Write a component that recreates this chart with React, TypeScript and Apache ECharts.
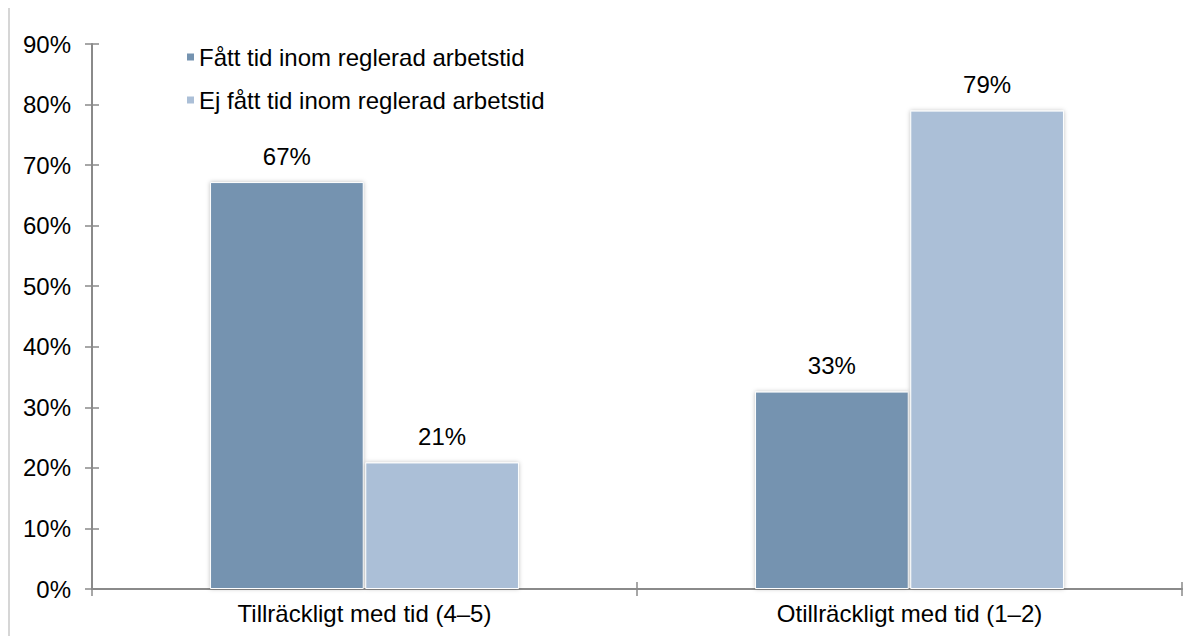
import React, { useEffect, useRef } from "react";
import * as echarts from "echarts";

const categories = ["Tillräckligt med tid (4–5)", "Otillräckligt med tid (1–2)"];
const seriesNames = ["Fått tid inom reglerad arbetstid", "Ej fått tid inom reglerad arbetstid"];
const fattTid = [67.2, 32.6];
const ejFattTid = [20.9, 79.0];
const yTicks = [0, 10, 20, 30, 40, 50, 60, 70, 80, 90];

const FONT = "'Liberation Sans', Arial, sans-serif";
const AXIS = "#8a8a8a";
const FS = 24;

export default function App() {
  const ref = useRef<HTMLDivElement>(null);
  useEffect(() => {
    if (!ref.current) return;
    const chart = echarts.init(ref.current, undefined, { renderer: "svg" });
    const label = {
      show: true,
      position: "top",
      distance: 14,
      color: "#000",
      fontFamily: FONT,
      fontSize: FS,
      formatter: (p: any) => Math.round(p.value) + "%",
    };
    const yBase = {
      type: "value",
      min: yTicks[0],
      max: yTicks[yTicks.length - 1],
      interval: 10,
      splitLine: { show: false },
    };
    chart.setOption({
      animation: false,
      textStyle: { fontFamily: FONT },
      grid: { left: 92, right: 18, top: 44, bottom: 55 },
      legend: {
        orient: "vertical",
        left: 180,
        top: 40,
        itemWidth: 9,
        itemHeight: 9,
        itemGap: 19,
        textStyle: { fontFamily: FONT, fontSize: FS, color: "#000", padding: [0, 0, 0, -1] },
        data: seriesNames.map((n) => ({ name: n, icon: "rect" })),
      },
      xAxis: [
        {
          type: "category",
          data: categories,
          axisLine: { lineStyle: { color: AXIS, width: 2 } },
          axisTick: { show: true, length: 7, lineStyle: { color: AXIS, width: 1.5 } },
          axisLabel: { color: "#000", fontFamily: FONT, fontSize: FS, margin: 12 },
        },
        {
          type: "category",
          data: categories,
          position: "bottom",
          axisLine: { show: false },
          axisTick: { show: true, inside: true, length: 7, lineStyle: { color: AXIS, width: 1.5 } },
          axisLabel: { show: false },
        },
      ],
      yAxis: [
        {
          ...yBase,
          axisLine: { show: true, lineStyle: { color: AXIS, width: 2 } },
          axisTick: { show: true, length: 7, lineStyle: { color: AXIS, width: 1.5 } },
          axisLabel: {
            color: "#000",
            fontFamily: FONT,
            fontSize: FS,
            margin: 21,
            formatter: "{value}%",
          },
        },
        {
          ...yBase,
          position: "left",
          axisLine: { show: false },
          axisTick: { show: true, inside: true, length: 7, lineStyle: { color: AXIS, width: 1.5 } },
          axisLabel: { show: false },
        },
      ],
      series: [
        {
          name: seriesNames[0],
          type: "bar",
          data: fattTid,
          barWidth: "28.2%",
          barGap: "1%",
          itemStyle: {
            color: "#7593B0",
            borderColor: "#fff",
            borderWidth: 1,
            shadowBlur: 4,
            shadowColor: "rgba(0,0,0,0.25)",
          },
          label,
        },
        {
          name: seriesNames[1],
          type: "bar",
          data: ejFattTid,
          barWidth: "28.2%",
          itemStyle: {
            color: "#ABBFD7",
            borderColor: "#fff",
            borderWidth: 1,
            shadowBlur: 4,
            shadowColor: "rgba(0,0,0,0.25)",
          },
          label,
        },
      ],
    });
    return () => chart.dispose();
  }, []);
  return (
    <div style={{ position: "relative", width: 1200, height: 644, margin: -8, background: "#fff" }}>
      <div style={{ position: "absolute", left: 8, top: 0, width: 2, height: 644, background: "#d6d6d6" }} />
      <div ref={ref} style={{ position: "absolute", left: 0, top: 0, width: 1200, height: 644 }} />
    </div>
  );
}
